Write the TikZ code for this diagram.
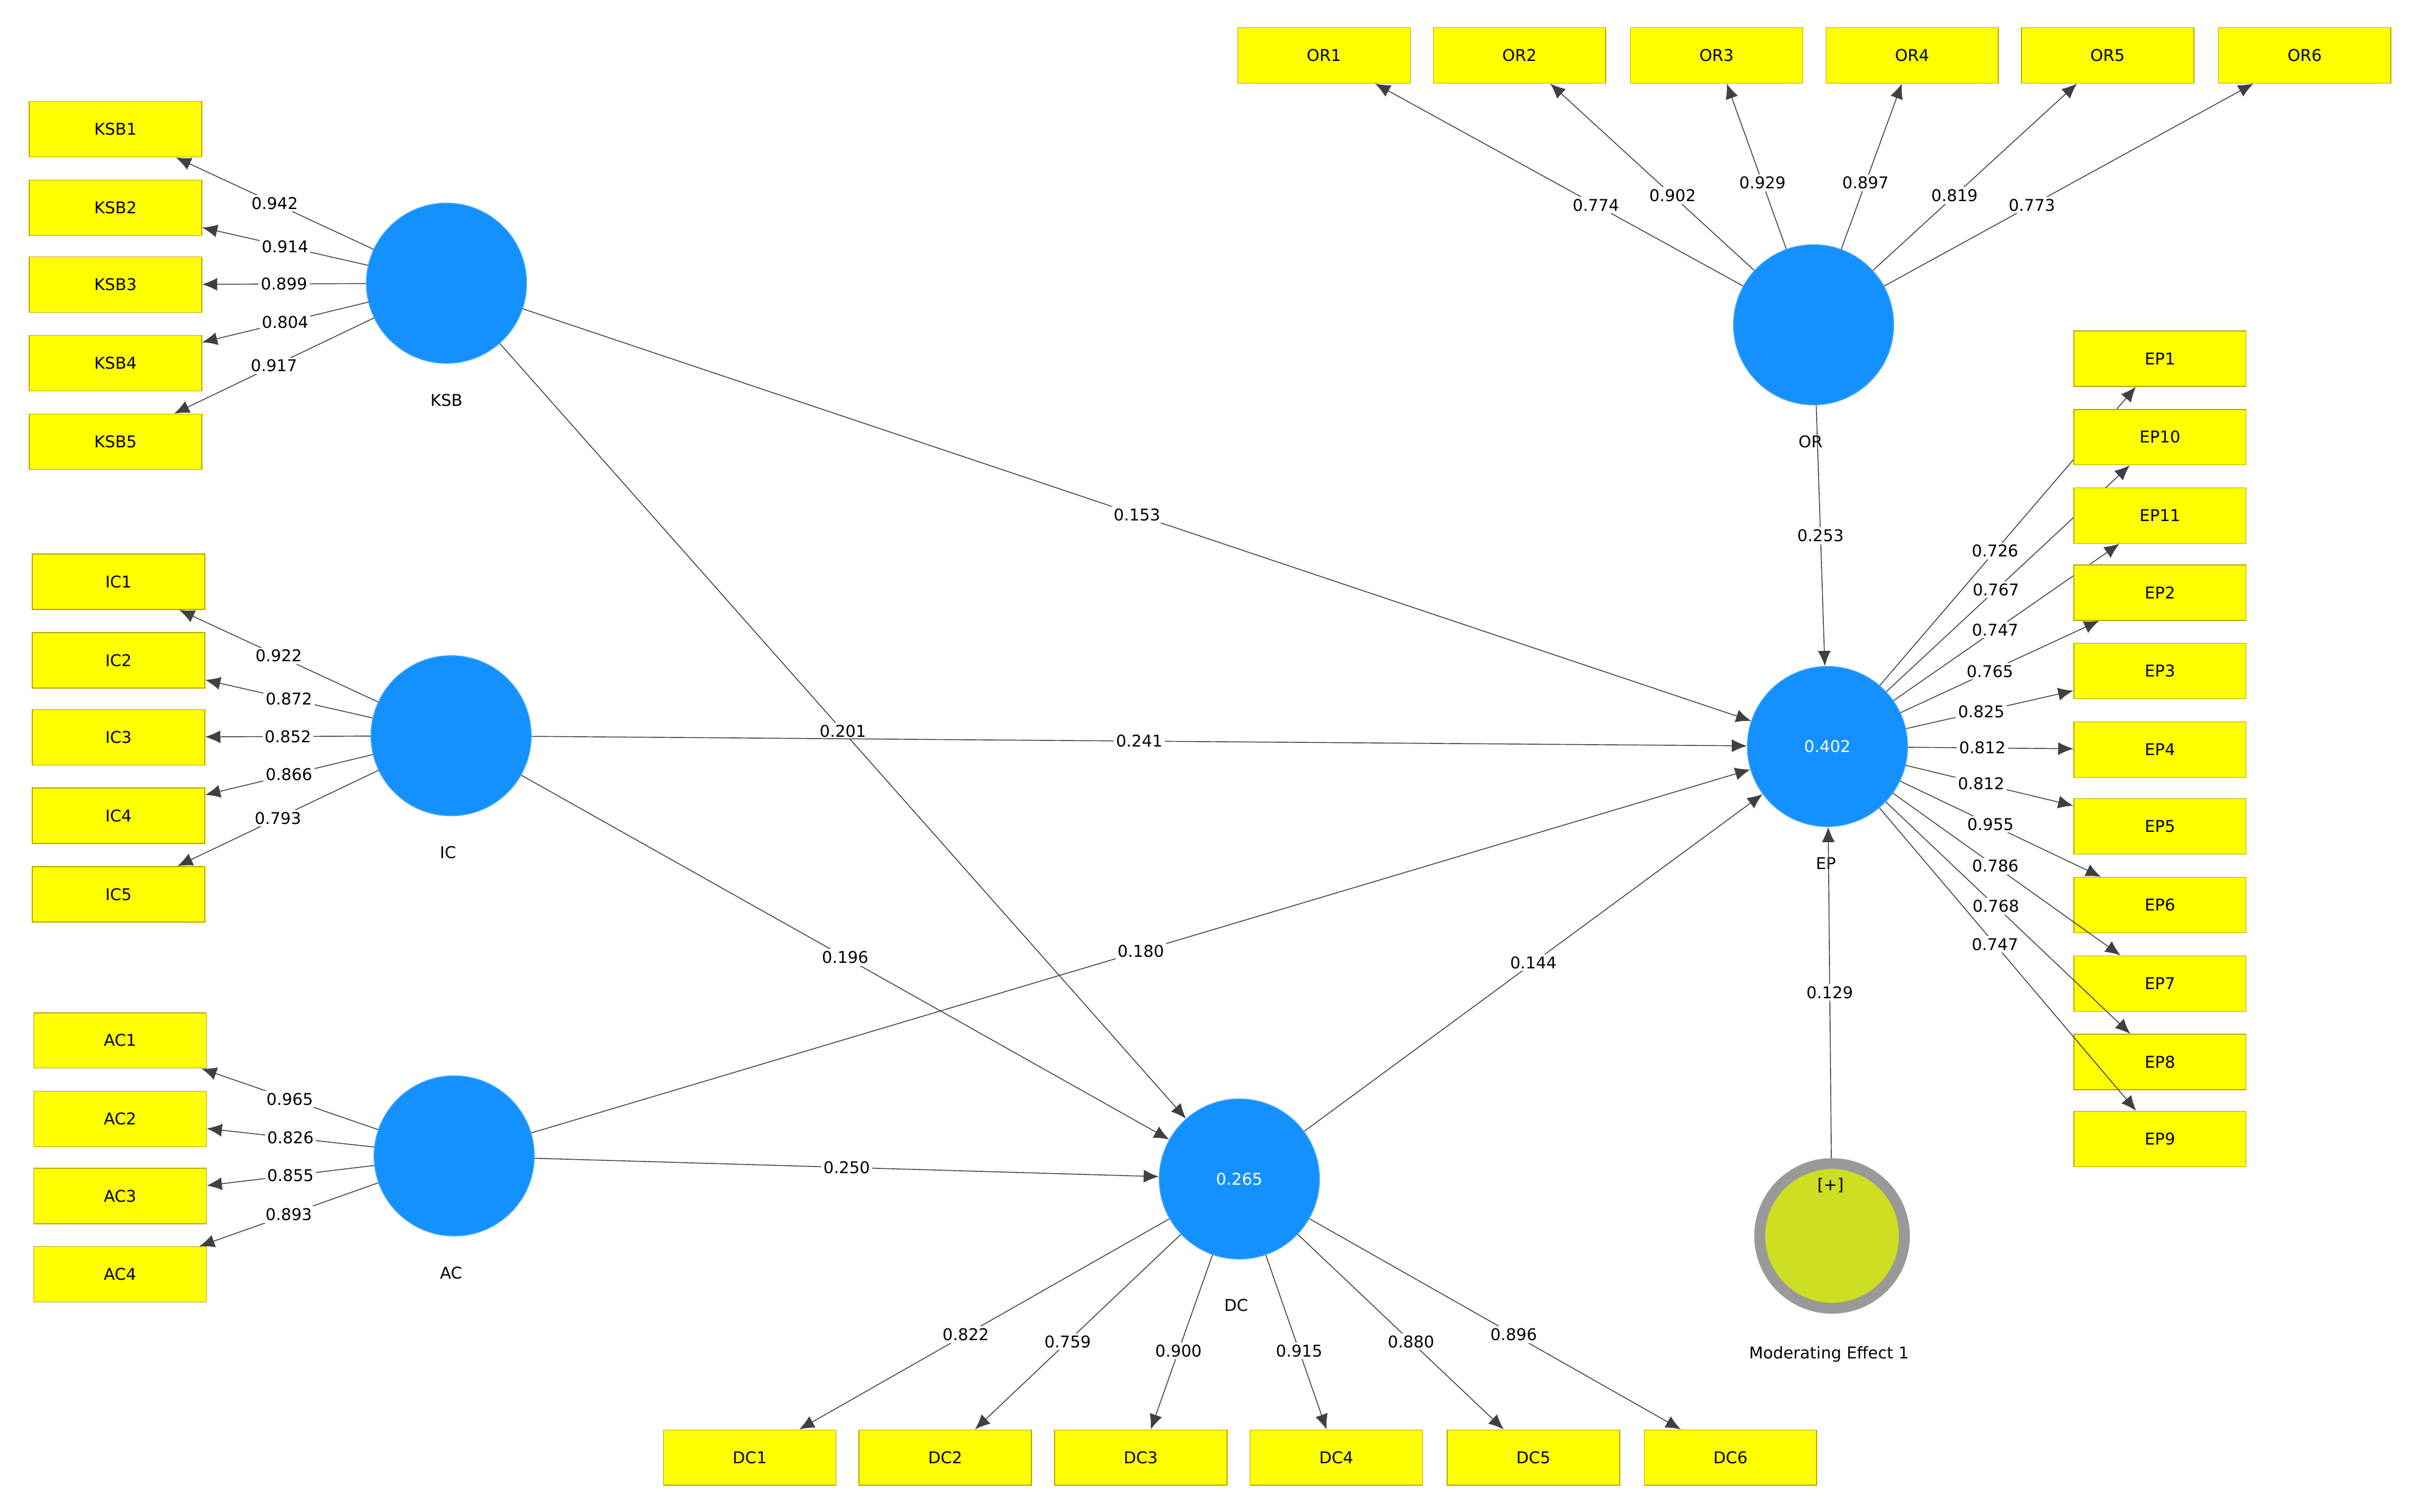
\documentclass[tikz,border=0pt]{standalone}
\usepackage{fontspec}
\setmainfont{DejaVu Sans}
\usetikzlibrary{arrows.meta}
\definecolor{lvblue}{RGB}{20,145,255}
\definecolor{itemyellow}{RGB}{255,255,0}
\definecolor{itemedge}{RGB}{190,170,0}
\definecolor{modfill}{RGB}{204,221,34}
\tikzset{lv node/.style={circle,fill=lvblue,draw=lvblue!80!white,minimum size=2.6cm,inner sep=0pt,text=white},
	item node/.style={rectangle,fill=itemyellow,draw=itemedge,minimum width=2.8cm,minimum height=0.9cm,inner sep=0pt},
	mod node/.style={circle,fill=modfill,draw=gray!80,line width=5pt,minimum size=2.35cm,inner sep=0pt},
	lbl/.style={fill=white,inner sep=1pt},
	path line/.style={draw=black!75,-{Latex[length=7pt,width=6pt]}},
}

\begin{document}
\begin{tikzpicture}[x=0.025cm,y=-0.025cm,font=\fontsize{7.5}{9}\selectfont]
\useasboundingbox (0,0) rectangle (1568,982);

%% latent variables
\node[lv node] (ksb) at (290,184) {};
\node[lv node] (ic) at (293,478) {};
\node[lv node] (ac) at (295,751) {};
\node[lv node] (dc) at (805,766) {0.265};
\node[lv node] (ep) at (1187,485) {0.402};
\node[lv node] (or) at (1178,211) {};
\node[mod node] (mod) at (1190,803) {};
\node at (1189,770) {[+]};
\node at (290,260) {KSB};
\node at (291,554) {IC};
\node at (293,827) {AC};
\node at (803,848) {DC};
\node at (1176,287) {OR};
\node at (1186,561) {EP};
\node at (1188,880) {Moderating Effect 1};

%% indicators
\foreach \i/\y/\l in {1/84/0.942,2/135/0.914,3/185/0.899,4/236/0.804,5/287/0.917}{
	\node[item node] (ksb\i) at (75,\y) {KSB\i};
	\draw[path line] (ksb) -- node[lbl] {\l} (ksb\i);
}
\foreach \i/\y/\l in {1/378/0.922,2/429/0.872,3/479/0.852,4/530/0.866,5/581/0.793}{
	\node[item node] (ic\i) at (77,\y) {IC\i};
	\draw[path line] (ic) -- node[lbl] {\l} (ic\i);
}
\foreach \i/\y/\l in {1/676/0.965,2/727/0.826,3/777/0.855,4/828/0.893}{
	\node[item node] (ac\i) at (78,\y) {AC\i};
	\draw[path line] (ac) -- node[lbl] {\l} (ac\i);
}
\foreach \i/\x/\l in {1/487/0.822,2/614/0.759,3/741/0.900,4/868/0.915,5/996/0.880,6/1124/0.896}{
	\node[item node] (dc\i) at (\x,947) {DC\i};
	\draw[path line] (dc) -- node[lbl,pos=0.55] {\l} (dc\i);
}
\foreach \i/\x/\l in {1/860/0.774,2/987/0.902,3/1115/0.929,4/1242/0.897,5/1369/0.819,6/1497/0.773}{
	\node[item node] (or\i) at (\x,36) {OR\i};
	\draw[path line] (or) -- node[lbl,pos=0.4] {\l} (or\i);
}
\foreach \n/\y/\l in {EP1/233/0.726,EP10/284/0.767,EP11/335/0.747,EP2/385/0.765,EP3/436/0.825,EP4/487/0.812,EP5/537/0.812,EP6/588/0.955,EP7/639/0.786,EP8/690/0.768,EP9/740/0.747}{
	\node[item node] (\n) at (1403,\y) {\n};
	\draw[path line] (ep) -- node[lbl,pos=0.45] {\l} (\n);
}

%% structural paths
\draw[path line] (ksb) -- node[lbl] {0.153} (ep);
\draw[path line] (ksb) -- node[lbl] {0.201} (dc);
\draw[path line] (ic) -- node[lbl] {0.241} (ep);
\draw[path line] (ic) -- node[lbl] {0.196} (dc);
\draw[path line] (ac) -- node[lbl] {0.180} (ep);
\draw[path line] (ac) -- node[lbl] {0.250} (dc);
\draw[path line] (dc) -- node[lbl] {0.144} (ep);
\draw[path line] (or) -- node[lbl] {0.253} (ep);
\draw[path line] (mod) -- node[lbl] {0.129} (ep);
\end{tikzpicture}
\end{document}
